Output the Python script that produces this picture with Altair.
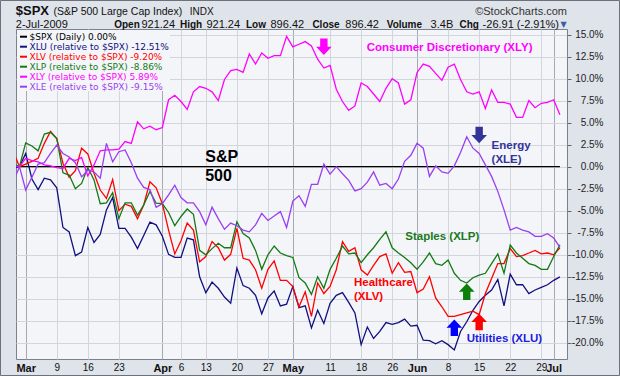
import json
import altair as alt
import pandas as pd

# ---------------- data ----------------
holidays = ["2009-04-10", "2009-05-25"]
dates = [d for d in pd.bdate_range("2009-02-26", "2009-07-02")
         if d.strftime("%Y-%m-%d") not in holidays]

series_names = ["XLU", "XLV", "XLP", "XLY", "XLE"]

xlu = [-0.2, 0.0, 1.5, -1.4, -2.6, -1.3, -1.5, -2.4, -6.9, -7.4,
       -10.1, -9.7, -6.9, -8.6, -7.7, -4.9, -3.5, -7.0, -7.0, -8.0,
       -9.3, -7.8, -6.3, -6.6, -7.9, -9.95, -10.3, -10.3, -8.1, -8.3,
       -12.5, -14.3, -13.1, -13.8, -14.8, -15.5, -11.5, -13.5, -13.8, -14.6,
       -16.7, -14.9, -14.1, -15.8, -15.6, -13.6, -16.0, -15.8, -18.3, -16.3,
       -17.8, -15.5, -14.6, -14.3, -15.4, -16.6, -20.2, -18.2, -19.5, -18.7,
       -17.7, -17.9, -17.7, -17.3, -18.1, -18.0, -19.7, -19.75, -20.1, -19.75,
       -20.2, -20.8, -18.7, -17.6, -16.3, -15.3, -14.6, -14.0, -12.8, -15.8,
       -12.2, -13.4, -13.4, -14.4, -14.0, -13.7, -13.4, -12.9, -12.51]
xlv = [1.7, 0.0, 0.3, 0.6, 0.95, 2.65, 4.0, 3.2, 0.4, -1.2,
       -0.45, 2.1, 1.45, -0.75, -2.65, -3.6, -1.45, -5.0, -4.25, -4.5,
       -5.9, -4.35, -1.7, -2.4, -4.2, -7.2, -9.9, -8.4, -6.4, -7.2,
       -10.8, -10.2, -8.5, -9.2, -10.6, -9.95, -7.0, -10.4, -10.6, -11.7,
       -13.8, -11.65, -10.7, -12.9, -12.9, -13.6, -15.9, -14.2, -17.0, -13.2,
       -14.4, -13.6, -11.7, -8.5, -9.6, -9.2, -11.7, -12.3, -11.2, -10.2,
       -9.9, -12.1, -10.9, -12.0, -11.9, -14.3, -13.9, -12.5, -14.9, -15.9,
       -17.0, -17.0, -16.8, -16.6, -16.4, -16.8, -14.4, -12.7, -11.0, -11.0,
       -9.3, -10.2, -10.1, -9.8, -9.5, -9.9, -9.8, -10.0, -9.2]
xlp = [0.3, 0.0, 2.7, 2.35, 1.8, 3.7, 3.9, 3.2, -0.7, -0.95,
       -2.5, -1.9, -0.1, -1.5, -4.2, -4.1, -2.95, -5.9, -4.1, -4.1,
       -5.5, -4.35, -2.8, -4.15, -4.2, -5.2, -6.7, -5.65, -4.8, -5.4,
       -9.5, -10.0, -9.3, -8.7, -9.2, -9.2, -6.25, -7.6, -8.1, -9.5,
       -11.65, -10.0, -9.0, -9.8, -10.1, -10.3, -12.6, -13.2, -14.5, -12.5,
       -13.8, -11.65, -10.4, -9.0, -9.9, -9.8, -10.9, -10.0, -9.2, -8.25,
       -7.4, -9.2, -9.8, -10.3, -10.9, -11.65, -10.8, -9.8, -11.0, -11.2,
       -10.6, -12.1, -12.9, -13.2, -12.6, -12.3, -12.1, -11.0, -9.9, -12.1,
       -8.9, -9.8, -10.4, -11.0, -11.2, -11.65, -11.65, -10.2, -8.86]
xly = [0.0, 0.0, 0.95, 0.7, 0.55, 0.2, 0.1, -0.1, -0.2, 0.95,
       0.7, 1.05, -1.05, 0.2, 1.8, 1.9, 1.9, 2.0, 2.85, 2.65,
       5.1, 4.3, 4.6, 4.2, 4.45, 7.6, 8.1, 7.4, 6.5, 8.5,
       9.1, 8.9, 8.5, 7.5, 9.9, 10.9, 11.05, 10.7, 12.8, 11.65,
       12.9, 12.3, 12.6, 12.6, 14.8, 13.6, 13.9, 14.2, 13.7, 12.2,
       11.2, 11.5, 8.8, 7.4, 6.4, 6.9, 9.5, 9.1, 8.25, 7.4,
       8.9, 10.0, 9.5, 7.1, 7.6, 10.7, 11.65, 11.4, 10.6, 9.8,
       11.3, 11.65, 9.9, 8.5, 8.25, 8.5, 6.6, 8.7, 7.3, 7.3,
       7.1, 5.6, 5.6, 7.5, 6.7, 7.2, 7.3, 7.6, 5.89]
xle = [-1.7, 0.0, -2.65, -1.2, 0.3, 0.45, 1.5, 2.45, 1.5, 1.1,
       0.45, -1.15, -0.4, -0.6, -1.3, 2.65, 0.55, 1.7, 1.9, 0.45,
       -1.3, -2.35, -2.6, -4.6, -4.2, -3.2, -2.1, -3.5, -4.1, -4.1,
       -5.1, -6.6, -4.6, -5.9, -7.1, -6.4, -6.7, -7.2, -7.4, -6.6,
       -5.3, -6.1, -5.6, -5.1, -6.9, -3.9, -3.3, -4.5, -2.0, -2.0,
       0.3, -0.85, 0.0, -0.8, -1.55, -2.75, -2.5, -1.75, -0.6, -2.1,
       -1.9, -2.5, -1.4, 0.6, 1.3, 2.65, 2.1, -1.1, 0.1, -0.6,
       -0.75, 0.1, 1.6, 3.4, 2.1, 1.5, 0.2, -1.1, -2.8, -4.9,
       -7.2, -6.9, -7.2, -7.4, -7.9, -7.9, -7.6, -8.1, -9.15]
spx_value = 0.0

legend_labels = ["$SPX (Daily) 0.00%",
                 "XLU (relative to $SPX) -12.51%",
                 "XLV (relative to $SPX) -9.20%",
                 "XLP (relative to $SPX) -8.86%",
                 "XLY (relative to $SPX) 5.89%",
                 "XLE (relative to $SPX) -9.15%"]

tick_dates = ["2009-03-02", "2009-03-09", "2009-03-16", "2009-03-23", "2009-04-01",
              "2009-04-06", "2009-04-13", "2009-04-20", "2009-04-27", "2009-05-01",
              "2009-05-11", "2009-05-18", "2009-05-26", "2009-06-01", "2009-06-08",
              "2009-06-15", "2009-06-22", "2009-06-29", "2009-07-01"]
tick_labels = ["Mar", "9", "16", "23", "Apr", "6", "13", "20", "27", "May",
               "11", "18", "26", "Jun", "8", "15", "22", "29", "Jul"]
month_labels = ["Mar", "Apr", "May", "Jun", "Jul"]
y_ticks = [-20, -17.5, -15, -12.5, -10, -7.5, -5, -2.5, 0, 2.5, 5, 7.5, 10, 12.5, 15]

header_row1 = ["$SPX", "(S&P 500 Large Cap Index)", "INDX"]
header_copy = "\u00a9StockCharts.com"
header_row2 = ["2-Jul-2009", "Open", "921.24", "High", "921.24", "Low", "896.42",
               "Close", "896.42", "Volume", "3.4B", "Chg", "-26.91 (-2.91%)"]

ann_texts = ["Consumer Discretionary (XLY)", "Energy", "(XLE)", "Staples (XLP)",
             "Healthcare", "(XLV)", "Utilities (XLU)"]
ann_series = ["XLY", "XLE", "XLE", "XLP", "XLV", "XLV", "XLU"]
ann_t = [54.9, 75.0, 75.0, 61.1, 52.85, 52.85, 71.0]
ann_v = [13.5, 2.4, 0.76, -8.0, -13.2, -14.8, -19.6]
sp_texts = ["S&P", "500"]
sp_t = [28.9, 28.9]
sp_v = [1.13, -1.08]

arrow_series = ["XLY", "XLE", "XLP", "XLU", "XLV"]
arrow_dir = ["down", "down", "up", "up", "up"]
arrow_t = [48.0, 73.0, 71.0, 69.0, 73.0]
arrow_v = [13.62, 3.6, -14.19, -18.29, -17.63]

# ---------------- styles ----------------
line_colors = {"SPX": "#000000", "XLU": "#10107e", "XLV": "#ff0000", "XLP": "#137a13",
               "XLY": "#ff00ff", "XLE": "#9a3ff0"}
ann_colors = {"XLY": "#ff00ff", "XLE": "#333399", "XLP": "#1a7a1a", "XLV": "#ff0000",
              "XLU": "#1c1ce0"}
arrow_colors = {"XLY": "#ff00ff", "XLE": "#333399", "XLP": "#0a800a", "XLU": "#0000ff",
                "XLV": "#ff0000"}
BG = "#dfe3ea"
PLOT_BG = "#f4f5f9"
W, H = 551, 330
PAD = {"left": 16, "top": 29, "right": 53, "bottom": 17}

# ---------------- build ----------------
pos = {d.strftime("%Y-%m-%d"): i - 2 for i, d in enumerate(dates)}
day_pos = [i - 2 for i in range(len(dates))]
tick_pos = [pos[d] for d in tick_dates]
month_pos = [p for p, l in zip(tick_pos, tick_labels) if l in month_labels]

rows = []
for name, vals in zip(series_names, [xlu, xlv, xlp, xly, xle]):
    for t, v in zip(day_pos, vals):
        rows.append({"series": name, "t": t, "v": v})
df = pd.DataFrame(rows)

xs = alt.Scale(domain=[-1.56, 87.14], nice=False, zero=False)
ys = alt.Scale(domain=[-21.83, 15.63], nice=False, zero=False)

month_test = "indexof(%s, datum.value) >= 0" % json.dumps(month_pos)
label_expr = "%s[indexof(%s, datum.value)]" % (json.dumps(tick_labels), json.dumps(tick_pos))

xaxis = alt.Axis(values=tick_pos, labelExpr=label_expr, title=None, ticks=False, domain=False,
                 grid=True,
                 gridColor=alt.condition(month_test, alt.value("#a6a9b4"), alt.value("#d3d5dd")),
                 labelFontWeight=alt.condition(month_test, alt.value("bold"), alt.value("normal")),
                 labelFontSize=alt.condition(month_test, alt.value(11), alt.value(10)),
                 labelFont="Liberation Sans", labelColor="#111111", labelPadding=3,
                 labelOverlap=False, labelFlush=False)
yaxis = alt.Axis(orient="right", values=y_ticks, title=None,
                 labelExpr="(datum.value < 0 ? '-' : '') + format(abs(datum.value), '.1f') + '%'",
                 grid=True, gridColor="#d3d5dd", tickSize=4, tickColor="#666666",
                 labelPadding=32, labelAlign="right", labelFont="Liberation Sans",
                 labelFontSize=10, labelColor="#222222", domain=False)


def X(field):
    return alt.X(field, scale=xs, axis=xaxis)


def Y(field):
    return alt.Y(field, scale=ys, axis=yaxis)


one = pd.DataFrame({"a": [0]})

frame = alt.Chart(one).mark_rect(fill=None, stroke="#6d717c", strokeWidth=1).encode(
    x=alt.value(-PAD["left"] + 0.5), x2=alt.value(W + PAD["right"] - 0.5),
    y=alt.value(-PAD["top"] + 0.5), y2=alt.value(H + PAD["bottom"] - 0.5))

legend_box = alt.Chart(one).mark_rect(fill=PLOT_BG).encode(
    x=alt.value(1), x2=alt.value(154), y=alt.value(1), y2=alt.value(62))

spx_df = pd.DataFrame({"t0": [day_pos[0]], "t1": [day_pos[-1]], "v": [spx_value]})
spx = alt.Chart(spx_df).mark_rule(color=line_colors["SPX"], strokeWidth=1.3, clip=True).encode(
    x=X("t0:Q"), x2="t1:Q", y=Y("v:Q"))

lines = alt.Chart(df).mark_line(strokeWidth=1.3, clip=True).encode(
    x=X("t:Q"), y=Y("v:Q"),
    color=alt.Color("series:N", scale=alt.Scale(domain=series_names,
                                                range=[line_colors[s] for s in series_names]),
                    legend=None),
    order="t:Q")

ann_df = pd.DataFrame({"txt": ann_texts, "t": ann_t, "v": ann_v,
                       "c": [ann_colors[s] for s in ann_series]})
ann = alt.Chart(ann_df).mark_text(align="left", baseline="middle", font="Liberation Sans",
                                  fontWeight="bold", fontSize=11.5).encode(
    x=X("t:Q"), y=Y("v:Q"), text="txt:N", color=alt.Color("c:N", scale=None))

sp_df = pd.DataFrame({"txt": sp_texts, "t": sp_t, "v": sp_v})
sp = alt.Chart(sp_df).mark_text(align="left", baseline="middle", font="Liberation Sans",
                                fontWeight="bold", fontSize=16, color="#000000").encode(
    x=X("t:Q"), y=Y("v:Q"), text="txt:N")

DOWN = "M-0.45,-1 L0.45,-1 L0.45,0 L0.95,0 L0,1 L-0.95,0 L-0.45,0 Z"
UP = "M-0.45,1 L0.45,1 L0.45,0 L0.95,0 L0,-1 L-0.95,0 L-0.45,0 Z"
arr_df = pd.DataFrame({"t": arrow_t, "v": arrow_v, "d": arrow_dir,
                       "c": [arrow_colors[s] for s in arrow_series]})
arrow_layers = []
for d, shape in [("down", DOWN), ("up", UP)]:
    arrow_layers.append(
        alt.Chart(arr_df).transform_filter(alt.datum.d == d)
        .mark_point(shape=shape, filled=True, size=270, opacity=1, strokeWidth=0).encode(
            x=X("t:Q"), y=Y("v:Q"), color=alt.Color("c:N", scale=None)))

legend_layers = []
for k, (lab, key) in enumerate(zip(legend_labels, ["SPX"] + series_names)):
    yy = 7.7 + 10 * k
    col = line_colors[key]
    legend_layers.append(alt.Chart(one).mark_rule(color=col, strokeWidth=2).encode(
        x=alt.value(4), x2=alt.value(11), y=alt.value(yy)))
    legend_layers.append(alt.Chart(one).mark_text(
        align="left", baseline="middle", font="DejaVu Sans", fontSize=9, color=col, text=lab
    ).encode(x=alt.value(13.5), y=alt.value(yy)))

header_layers = []
row1_x = [-0.2, 37.4, 173.7]
row1_style = [("bold", 13), ("normal", 10.5), ("normal", 10)]
for txt, xx, (fw, fs) in zip(header_row1, row1_x, row1_style):
    header_layers.append(alt.Chart(one).mark_text(
        align="left", baseline="alphabetic", font="Liberation Sans", fontWeight=fw,
        fontSize=fs, color="#111111", text=txt).encode(x=alt.value(xx), y=alt.value(-14)))
header_layers.append(alt.Chart(one).mark_text(
    align="right", baseline="alphabetic", font="Liberation Sans", fontSize=11,
    color="#333333", text=header_copy).encode(x=alt.value(551), y=alt.value(-14)))
row2_x = [-0.2, 98.2, 125.4, 164, 190.4, 230, 254.5, 296.4, 329.3, 370.7, 414.6, 443.5, 466.6]
for k, (txt, xx) in enumerate(zip(header_row2, row2_x)):
    bold = (k % 2 == 1 and k < 12)
    header_layers.append(alt.Chart(one).mark_text(
        align="left", baseline="alphabetic", font="Liberation Sans",
        fontWeight="bold" if bold else "normal",
        fontSize=10 if bold else 11, color="#111111", text=txt
    ).encode(x=alt.value(xx), y=alt.value(-1.3)))
header_layers.append(alt.Chart(one).mark_text(
    align="left", baseline="alphabetic", font="DejaVu Sans", fontSize=8,
    color="#3a5fa8", text="\u25bc").encode(x=alt.value(544.5), y=alt.value(-2.5)))

chart = alt.layer(
    legend_box, spx, lines, ann, sp, *arrow_layers, *legend_layers, *header_layers, frame
).properties(
    width=W, height=H, padding=PAD, autosize=alt.AutoSizeParams(type="none"),
    background=BG
).configure_view(fill=PLOT_BG, stroke="#7c808c", strokeWidth=1)

chart.save("out.html", embed_options={"renderer": "svg", "actions": False})
